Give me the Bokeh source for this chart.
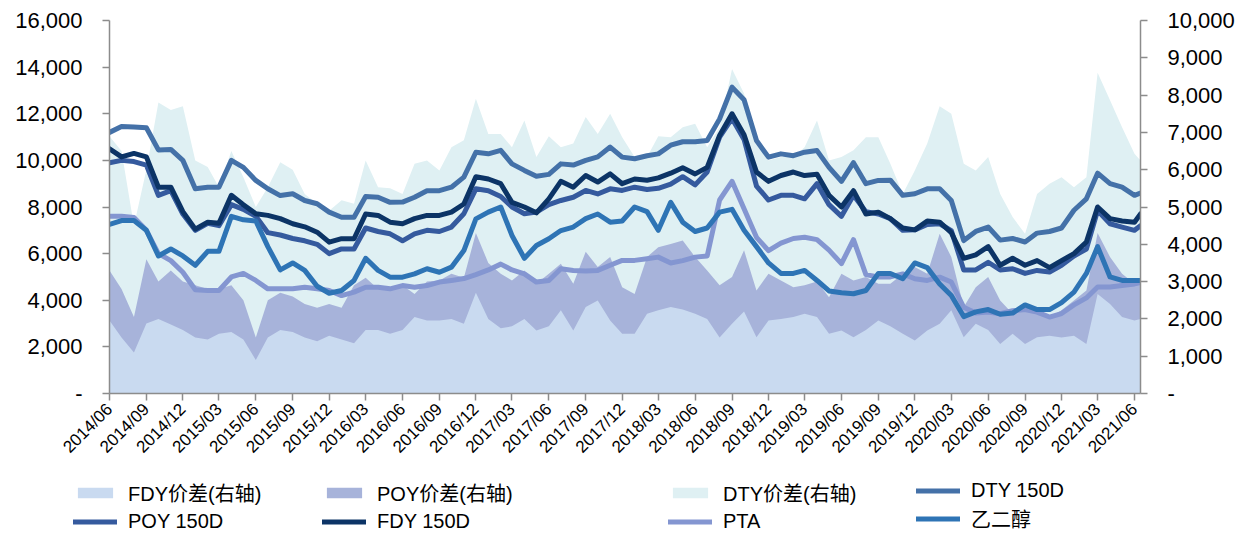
import pandas as pd
from math import pi
from bokeh.plotting import figure
from bokeh.layouts import column
from bokeh.models import (Range1d, LinearAxis, FixedTicker, DatetimeTickFormatter,
                          NumeralTickFormatter, Legend, LegendItem, ColumnDataSource)
from bokeh.embed import file_html
from bokeh.resources import INLINE

# ---------------- data (monthly readings, last point = series end) ----------------
dates = list(pd.date_range("2014-06-01", "2021-06-01", freq="MS")) + [pd.Timestamp("2021-06-16")]

dty_150d = [
    11200, 11450, 11430, 11400, 10450, 10470, 10000, 8780, 8850, 8850,
    10000, 9700, 9140, 8780, 8490, 8570, 8280, 8140, 7780, 7560,
    7560, 8450, 8420, 8200, 8210, 8420, 8700, 8700, 8850, 9280,
    10350, 10280, 10430, 9850, 9570, 9320, 9400, 9850, 9800, 10000,
    10150, 10570, 10140, 10070, 10200, 10280, 10650, 10800, 10800, 10850,
    11780, 13140, 12600, 10850, 10140, 10280, 10200, 10350, 10420, 9700,
    9100, 9900, 9000, 9140, 9150, 8500, 8570, 8780, 8780, 8280,
    6560, 6950, 7140, 6580, 6650, 6500, 6880, 6950, 7100, 7860,
    8350, 9450, 9000, 8850, 8500, 8600]

fdy_150d = [
    10500, 10150, 10300, 10150, 8850, 8850, 7800, 7050, 7350, 7300,
    8500, 8100, 7710, 7640, 7500, 7280, 7150, 6920, 6490, 6640,
    6640, 7700, 7640, 7350, 7280, 7500, 7640, 7640, 7780, 8130,
    9300, 9200, 9000, 8200, 8000, 7750, 8350, 9100, 8850, 9350,
    9070, 9420, 9000, 9200, 9150, 9250, 9450, 9680, 9420, 9700,
    11070, 12000, 11100, 9500, 9100, 9350, 9500, 9350, 9400, 8500,
    8000, 8700, 7700, 7780, 7500, 7100, 7020, 7400, 7350, 6900,
    5800, 5950, 6300, 5500, 5800, 5500, 5700, 5400, 5700, 6000,
    6500, 8000, 7500, 7400, 7350, 7700]

poy_150d = [
    9900, 10000, 9950, 9800, 8500, 8700, 7700, 7000, 7300, 7200,
    8100, 7900, 7600, 6900, 6800, 6650, 6550, 6400, 6000, 6200,
    6200, 7100, 6950, 6850, 6550, 6850, 7000, 6950, 7140, 7710,
    8780, 8700, 8450, 8000, 7710, 7780, 8100, 8280, 8420, 8710,
    8560, 8780, 8710, 8850, 8750, 8800, 8980, 9300, 8950, 9500,
    11000, 11800, 10900, 8900, 8300, 8500, 8500, 8350, 9000, 8100,
    7600, 8500, 7800, 7700, 7500, 7000, 7020, 7250, 7280, 6990,
    5300, 5300, 5630, 5300, 5350, 5150, 5280, 5210, 5500, 5900,
    6200, 7850, 7280, 7140, 7000, 7200]

pta = [
    7600, 7600, 7550, 7000, 6000, 5700, 5200, 4450, 4420, 4420,
    5000, 5150, 4850, 4490, 4490, 4490, 4560, 4490, 4420, 4200,
    4350, 4560, 4560, 4490, 4630, 4560, 4630, 4780, 4850, 4930,
    5100, 5300, 5550, 5300, 5130, 4780, 4850, 5350, 5280, 5250,
    5280, 5500, 5710, 5710, 5780, 5850, 5600, 5700, 5850, 5900,
    8300, 9100, 7920, 6700, 6130, 6450, 6650, 6700, 6600, 6150,
    5570, 6600, 5100, 5000, 5000, 5130, 4920, 4850, 4990, 4780,
    3700, 3450, 3500, 3420, 3550, 3600, 3490, 3280, 3430, 3800,
    4100, 4570, 4570, 4630, 4700, 4760]

meg = [
    7250, 7420, 7420, 7000, 5900, 6200, 5900, 5500, 6100, 6100,
    7600, 7450, 7400, 6300, 5300, 5600, 5280, 4600, 4300, 4420,
    4850, 5800, 5280, 4990, 4990, 5130, 5350, 5200, 5420, 6130,
    7490, 7780, 8000, 6780, 5800, 6350, 6640, 6990, 7140, 7500,
    7700, 7350, 7400, 8000, 7800, 7000, 8200, 7350, 6950, 7100,
    7780, 7900, 7000, 6300, 5600, 5150, 5150, 5280, 4850, 4400,
    4320, 4280, 4420, 5150, 5150, 4920, 5600, 5400, 4700, 4200,
    3300, 3500, 3600, 3400, 3450, 3800, 3600, 3600, 3900, 4350,
    5150, 6300, 5000, 4850, 4850, 4850]

dty_spread = [
    6900, 6500, 4500, 6000, 7800, 7600, 7700, 6250, 6070, 5530,
    6500, 5800, 5000, 5530, 6200, 6000, 5350, 5090, 4900, 5180,
    5090, 6250, 5530, 5500, 5350, 6160, 6250, 5980, 6600, 6790,
    7900, 6960, 6960, 6600, 7320, 6340, 6900, 6600, 6700, 7410,
    6960, 7500, 6870, 6340, 6340, 6900, 6870, 7140, 7230, 6600,
    7140, 8700, 8040, 6700, 6250, 6340, 6340, 6600, 7320, 6250,
    6340, 6520, 6870, 6870, 6160, 5350, 5980, 6700, 7700, 7500,
    6160, 5980, 6340, 5350, 4730, 4280, 5350, 5620, 5800, 5530,
    5800, 8600, 7860, 7140, 6430, 6250]

poy_spread = [
    3300, 2800, 2050, 3600, 3000, 3300, 3000, 2900, 2800, 2800,
    2900, 2500, 1500, 2500, 2700, 2600, 2400, 2300, 2400, 2300,
    2900, 3100, 2800, 2800, 2900, 2670, 3000, 3030, 3210, 3100,
    4300, 3500, 3210, 3030, 3300, 2940, 3210, 3480, 2940, 3800,
    3390, 3660, 2850, 2670, 3660, 3920, 4010, 4100, 3660, 3300,
    2900, 3120, 3840, 2760, 3210, 3030, 2850, 2900, 3000, 2580,
    3210, 3030, 3120, 2940, 2940, 3210, 3390, 3210, 4280, 3660,
    2320, 2850, 3120, 2490, 2140, 2230, 2320, 2050, 2230, 2490,
    2760, 4300, 3660, 3210, 2940, 2900]

fdy_spread = [
    1960, 1500, 1100, 1880, 2000, 1850, 1700, 1500, 1450, 1600,
    1650, 1450, 900, 1500, 1700, 1650, 1500, 1400, 1550, 1450,
    1350, 1700, 1700, 1600, 1700, 2050, 1960, 1960, 2000, 1870,
    2700, 2000, 1750, 1800, 2000, 1690, 1800, 2230, 1690, 2320,
    2490, 1960, 1600, 1600, 2140, 2230, 2320, 2250, 2140, 2000,
    1500, 1870, 2200, 1510, 1960, 2000, 2050, 2140, 2050, 1600,
    1690, 1510, 1700, 1960, 1800, 1600, 1420, 1690, 1870, 2230,
    1510, 1870, 1700, 1330, 1600, 1330, 1510, 1550, 1500, 1550,
    1330, 2670, 2400, 2050, 1960, 2000]

tick_dates = list(pd.date_range("2014-06-01", "2021-06-01", freq="3MS"))
left_ticks = [0, 2000, 4000, 6000, 8000, 10000, 12000, 14000, 16000]
right_ticks = [0, 1000, 2000, 3000, 4000, 5000, 6000, 7000, 8000, 9000, 10000]

# ---------------- styles ----------------
FONT = "'Liberation Sans', 'Noto Sans CJK SC', sans-serif"
AXIS_GREY = "#8c8c8c"
C_DTY_SP, C_POY_SP, C_FDY_SP = "#dff0f3", "#a7b3da", "#c9daf0"
C_DTY, C_POY, C_FDY, C_PTA, C_MEG = "#4471a8", "#355a9e", "#0c3466", "#8496d1", "#2e74b5"
LW = 5

src = ColumnDataSource(dict(date=dates, dty=dty_150d, fdy=fdy_150d, poy=poy_150d, pta=pta, meg=meg,
                            dty_sp=dty_spread, poy_sp=poy_spread, fdy_sp=fdy_spread, zero=[0] * len(dates)))

p = figure(width=1240, height=478, x_axis_type="datetime",
           x_range=Range1d(pd.Timestamp("2014-06-01"), pd.Timestamp("2021-06-16")),
           y_range=Range1d(0, 16000), output_backend="svg", toolbar_location=None,
           min_border_left=109, min_border_right=100, min_border_top=20, min_border_bottom=85)
p.extra_y_ranges = {"right": Range1d(0, 10000)}
p.grid.visible = False
p.outline_line_color = None

# spread areas (right axis)
p.varea(x="date", y1="zero", y2="dty_sp", source=src, y_range_name="right", fill_color=C_DTY_SP)
p.varea(x="date", y1="zero", y2="poy_sp", source=src, y_range_name="right", fill_color=C_POY_SP)
p.varea(x="date", y1="zero", y2="fdy_sp", source=src, y_range_name="right", fill_color=C_FDY_SP)

# price lines (left axis)
for col, c in [("dty", C_DTY), ("poy", C_POY), ("fdy", C_FDY), ("pta", C_PTA), ("meg", C_MEG)]:
    p.line(x="date", y=col, source=src, line_color=c, line_width=LW, line_join="round", line_cap="round")


def style_axis(ax):
    ax.axis_line_color = AXIS_GREY
    ax.axis_line_width = 1.5
    ax.major_tick_line_color = AXIS_GREY
    ax.major_tick_line_width = 1.5
    ax.major_tick_in = 0
    ax.major_tick_out = 7
    ax.minor_tick_line_color = None
    ax.major_label_text_font = FONT
    ax.major_label_text_color = "#000000"


yl = p.yaxis[0]
style_axis(yl)
yl.ticker = FixedTicker(ticks=left_ticks)
yl.formatter = NumeralTickFormatter(format="0,0")
yl.major_label_overrides = {0: "-"}
yl.major_label_text_font_size = "22px"
yl.major_label_standoff = 20

yr = LinearAxis(y_range_name="right")
p.add_layout(yr, "right")
style_axis(yr)
yr.ticker = FixedTicker(ticks=right_ticks)
yr.formatter = NumeralTickFormatter(format="0,0")
yr.major_label_overrides = {0: "-"}
yr.major_label_text_font_size = "22px"
yr.major_label_standoff = 20

xa = p.xaxis[0]
style_axis(xa)
xa.ticker = FixedTicker(ticks=[d.value // 10**6 for d in tick_dates])
xa.formatter = DatetimeTickFormatter(days="%Y/%m", months="%Y/%m", years="%Y/%m",
                                     hours="%Y/%m", context=None)
xa.major_label_orientation = pi / 4
xa.major_label_text_font_size = "17px"
xa.major_label_standoff = 6

# ---------------- legend strip (own figure so it can sit below the axis labels) ----------------
lg = figure(width=1240, height=55, x_range=Range1d(0, 1), y_range=Range1d(0, 1),
            output_backend="svg", toolbar_location=None,
            min_border_left=0, min_border_right=0, min_border_top=0, min_border_bottom=0)
try:
    lg.frame_align = False
except Exception:
    pass
lg.axis.visible = False
lg.grid.visible = False
lg.outline_line_color = None

# legend swatches: same data, but far outside this strip's ranges, so only the legend shows them
k_fdy_sp = lg.varea(x="date", y1="zero", y2="fdy_sp", source=src, fill_color=C_FDY_SP)
k_poy_sp = lg.varea(x="date", y1="zero", y2="poy_sp", source=src, fill_color=C_POY_SP)
k_dty_sp = lg.varea(x="date", y1="zero", y2="dty_sp", source=src, fill_color=C_DTY_SP)
k = {}
for name, c in [("dty", C_DTY), ("poy", C_POY), ("fdy", C_FDY), ("pta", C_PTA), ("meg", C_MEG)]:
    k[name] = lg.line(x="date", y=name, source=src, line_color=c, line_width=LW, line_cap="round")

legend_columns = [
    ([("FDY价差(右轴)", k_fdy_sp), ("POY 150D", k["poy"])], 73),
    ([("POY价差(右轴)", k_poy_sp), ("FDY 150D", k["fdy"])], 322),
    ([("DTY价差(右轴)", k_dty_sp), ("PTA", k["pta"])], 668),
    ([("DTY 150D", k["dty"]), ("乙二醇", k["meg"])], 916),
]
for items, xloc in legend_columns:
    leg = Legend(items=[LegendItem(label=l, renderers=[r]) for l, r in items],
                 location=(xloc, 0), orientation="vertical",
                 border_line_color=None, background_fill_alpha=0,
                 padding=0, margin=0, spacing=2,
                 glyph_width=44, glyph_height=13, label_standoff=11,
                 label_text_font=FONT, label_text_font_size="20px",
                 label_height=24, label_text_color="#000000")
    lg.add_layout(leg, "center")

layout = column(p, lg, spacing=0)
open("out.html", "w").write(file_html(layout, INLINE))
